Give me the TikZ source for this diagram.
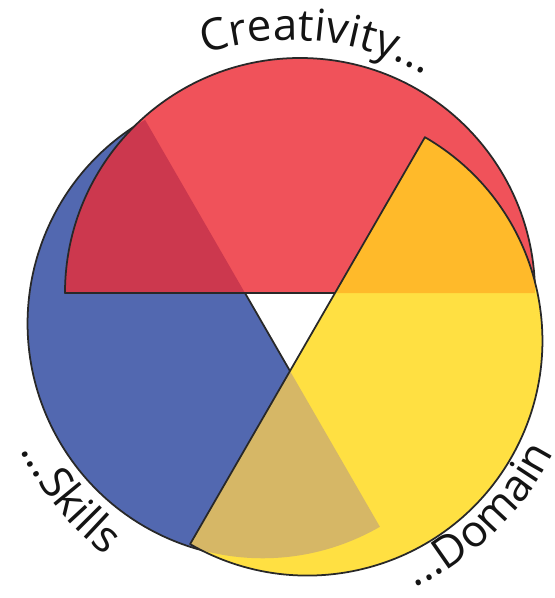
\documentclass[tikz,border=0pt]{standalone}
\usepackage{fontspec}
\newfontfamily\labelfont{Open Sans}
\usetikzlibrary{decorations.text}

\definecolor{bluefill}{RGB}{82,104,176}
\definecolor{redfill}{RGB}{240,82,90}
\definecolor{yellowfill}{RGB}{255,224,66}
\definecolor{crimsonfill}{RGB}{204,56,78}
\definecolor{orangefill}{RGB}{255,186,42}
\definecolor{olivefill}{RGB}{214,183,102}
\definecolor{edgegray}{RGB}{40,40,40}
\definecolor{labelgray}{RGB}{20,20,20}

% one half-disk, its diameter on the top side of the triangle
\newcommand{\halfdisk}{(245,26) arc[start angle=0, end angle=180, radius=235] -- cycle}

\tikzset{
    outline/.style={draw=edgegray, line width=1pt, line join=round},
    arclabel/.style={postaction={decorate},
        decoration={text along path, text align=center,
            text={|\labelfont\fontsize{25}{30}\selectfont\color{labelgray}|#1}}}
}

\begin{document}
\begin{tikzpicture}[scale=0.02]
    \useasboundingbox (-290,-279) rectangle (265,319);

    % Blue half-disk (bottom layer)
    \fill[bluefill, rotate=120] \halfdisk;
    \draw[outline, rotate=120] \halfdisk;

    % Red half-disk, darker where it lies on the blue one
    \fill[redfill] \halfdisk;
    \begin{scope}
        \clip[rotate=120] \halfdisk;
        \fill[crimsonfill] \halfdisk;
    \end{scope}
    \draw[outline] \halfdisk;

    % Yellow half-disk (top layer)
    \fill[yellowfill, rotate=240] \halfdisk;
    \begin{scope}
        \clip \halfdisk;
        \fill[orangefill, rotate=240] \halfdisk;
    \end{scope}
    \begin{scope}
        \clip[rotate=120] \halfdisk;
        \fill[olivefill, rotate=240] \halfdisk;
    \end{scope}
    \draw[outline, rotate=240] \halfdisk;

    % Labels along the arcs, round the middle of the triangle
    \path[arclabel=Creativity...] (125:279) arc[start angle=125, end angle=44, radius=279];
    \path[arclabel=...Skills] (184:300) arc[start angle=184, end angle=254, radius=300];
    \path[arclabel=...Domain] (279:296) arc[start angle=279, end angle=349, radius=296];

\end{tikzpicture}
\end{document}
